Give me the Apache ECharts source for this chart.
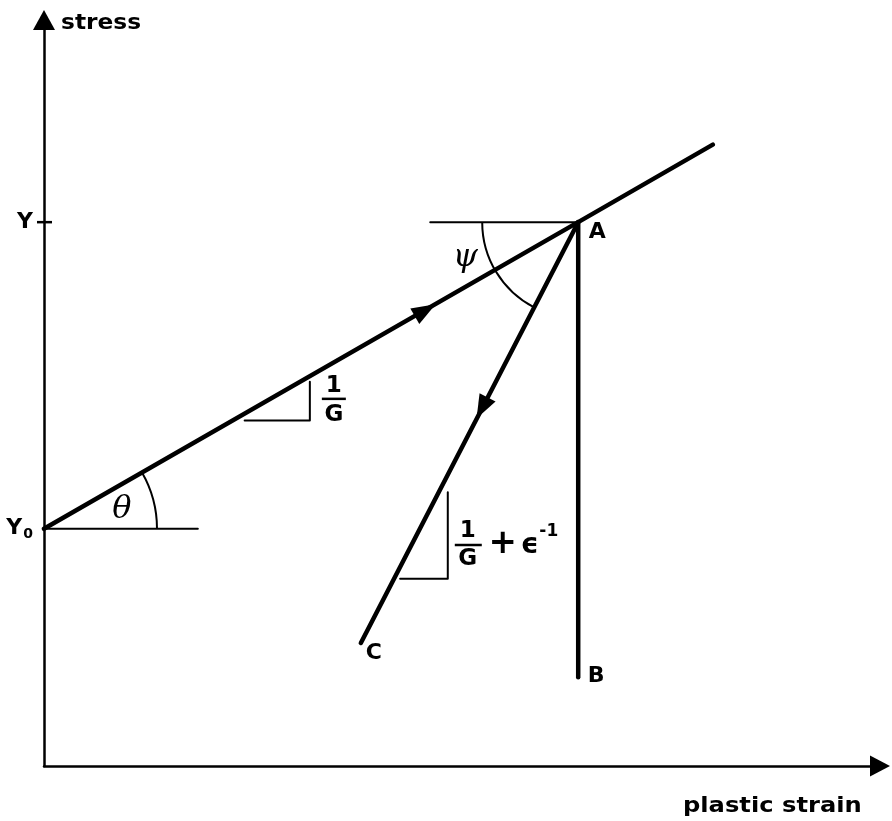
<!DOCTYPE html>
<html>
<head>
<meta charset="utf-8">
<title>Stress – plastic strain path</title>
<script src="https://cdn.jsdelivr.net/npm/echarts@6/dist/echarts.min.js"></script>
<style>
  html, body { margin: 0; padding: 0; background: #ffffff; }
  #chart { width: 892px; height: 821px; }
</style>
</head>
<body>
<div id="chart"></div>
<script>
// ---- path geometry, in (plastic strain, stress) units ----
const yieldStart = 3.18;          // Y0
const yieldAtA = 7.29;            // Y
const strainAtA = 6.39;

// loading line Y0 -> A, continued past A
const hardeningPath = [[0, 3.18], [6.39, 7.29], [8.0, 8.33]];
// unloading branches from A
const unloadToC = [[6.39, 7.29], [3.79, 1.65]];
const unloadToB = [[6.39, 7.29], [6.39, 1.19]];

// horizontal reference lines for the angles
const levelAtY0 = [[0, 3.18], [1.84, 3.18]];
const levelAtA = [[4.62, 7.29], [6.39, 7.29]];

// slope triangles
const slopeTriangleG = [[2.40, 4.63], [3.18, 4.63], [3.18, 5.15]];
const slopeTriangleGe = [[4.26, 2.51], [4.83, 2.51], [4.83, 3.67]];

// arrowheads: [x, y, towardX, towardY]
const arrowHeads = [
  [4.56, 6.11, 6.39, 7.29],
  [5.24, 4.80, 3.79, 1.65]
];

// angle arcs: [centerX, centerY, startRayX, startRayY, endRayX, endRayY]
const angleArcs = [
  [6.39, 7.29, 3.79, 1.65, 4.62, 7.29],   // psi
  [0, 3.18, 6.39, 7.29, 1.84, 3.18]       // theta
];
const angleNames = ['ψ', 'θ'];

// labelled end points
const pointNames = ['A', 'B', 'C'];
const pointX = [6.39, 6.39, 3.79];
const pointY = [7.29, 1.19, 1.65];

// y-axis tick labels
const yTickValues = [3.18, 7.29];
const yTickLabels = ['Y0', 'Y'];

// slope annotations anchored at the triangle corners
const slopeAnchors = [[3.18, 4.63], [4.83, 2.51]];

const ink = '#000000';
const sans = '"DejaVu Sans", "Liberation Sans", sans-serif';
const serif = '"DejaVu Serif", "Liberation Serif", serif';

function segment(data, width) {
  return {
    type: 'line', data: data, symbol: 'none', silent: true, clip: false,
    animation: false, z: 3,
    lineStyle: { color: ink, width: width, cap: 'round', join: 'round' }
  };
}

const arcRadius = [96, 113];
const angleLabelOffset = [[-113, 36], [78, -19]];
const pointLabelOffset = [[19, 10], [18, -1], [13, 10]];

const chart = echarts.init(document.getElementById('chart'), null, { renderer: 'canvas' });

chart.setOption({
  backgroundColor: '#ffffff',
  animation: false,
  grid: { left: 44, right: 12, top: 20, bottom: 55, containLabel: false, outerBoundsMode: 'none' },
  xAxis: {
    type: 'value', min: 0, max: 10,
    axisLine: { show: true, symbol: ['none', 'triangle'], symbolSize: [21, 20],
      lineStyle: { color: ink, width: 2.5 } },
    axisTick: { show: false }, axisLabel: { show: false }, splitLine: { show: false }
  },
  yAxis: {
    type: 'value', min: 0, max: 10,
    axisLine: { show: true, symbol: ['none', 'triangle'], symbolSize: [22, 20],
      lineStyle: { color: ink, width: 2.5 } },
    axisTick: { show: false },
    splitLine: { show: false },
    axisLabel: {
      show: true, margin: 11, customValues: yTickValues,
      formatter: function (v) {
        const i = yTickValues.findIndex(t => Math.abs(t - v) < 1e-6);
        const s = yTickLabels[i] || '';
        return s.length > 1 ? '{m|' + s[0] + '}{s|' + s.slice(1) + '}' : '{m|' + s + '}';
      },
      rich: {
        m: { fontFamily: sans, fontWeight: 'bold', fontSize: 22, color: ink },
        s: { fontFamily: sans, fontWeight: 'bold', fontSize: 14, color: ink,
             verticalAlign: 'bottom', padding: [12, 0, 0, 1] }
      }
    }
  },
  graphic: [
    { type: 'text', x: 61, y: 23, scaleX: 1.06, silent: true,
      style: { text: 'stress', fill: ink, font: 'bold 22px ' + sans,
               textAlign: 'left', textVerticalAlign: 'middle' } },
    { type: 'text', x: 683, y: 806, scaleX: 1.1, silent: true,
      style: { text: 'plastic strain', fill: ink, font: 'bold 22px ' + sans,
               textAlign: 'left', textVerticalAlign: 'middle' } }
  ],
  series: [
    segment(hardeningPath, 4.5),
    segment(unloadToC, 4.5),
    segment(unloadToB, 4.5),
    segment(levelAtY0, 2),
    segment(levelAtA, 2),
    segment(slopeTriangleG, 2),
    segment(slopeTriangleGe, 2),
    {
      // tick mark crossing the stress axis at Y
      type: 'custom', silent: true, animation: false, clip: false, z: 4,
      data: [[0, yieldAtA]],
      renderItem: function (params, api) {
        const p = api.coord([api.value(0), api.value(1)]);
        return { type: 'line', shape: { x1: p[0] - 7, y1: p[1], x2: p[0] + 8, y2: p[1] },
                 style: { stroke: ink, lineWidth: 2.5 } };
      }
    },
    {
      type: 'custom', silent: true, animation: false, clip: false, z: 5,
      data: arrowHeads,
      renderItem: function (params, api) {
        const p = api.coord([api.value(0), api.value(1)]);
        const q = api.coord([api.value(2), api.value(3)]);
        const a = Math.atan2(q[1] - p[1], q[0] - p[0]);
        const ux = Math.cos(a), uy = Math.sin(a);
        const L = 24, W = 9;
        const tip = [p[0] + ux * L / 2, p[1] + uy * L / 2];
        const bx = p[0] - ux * L / 2, by = p[1] - uy * L / 2;
        return { type: 'polygon',
                 shape: { points: [tip, [bx - uy * W, by + ux * W], [bx + uy * W, by - ux * W]] },
                 style: { fill: ink } };
      }
    },
    {
      type: 'custom', silent: true, animation: false, clip: false, z: 4,
      data: angleArcs,
      renderItem: function (params, api) {
        const c = api.coord([api.value(0), api.value(1)]);
        const s = api.coord([api.value(2), api.value(3)]);
        const e = api.coord([api.value(4), api.value(5)]);
        const a0 = Math.atan2(s[1] - c[1], s[0] - c[0]);
        const a1 = Math.atan2(e[1] - c[1], e[0] - c[0]);
        const i = params.dataIndex;
        const off = angleLabelOffset[i];
        return {
          type: 'group',
          children: [
            { type: 'arc',
              shape: { cx: c[0], cy: c[1], r: arcRadius[i], startAngle: a0, endAngle: a1, clockwise: true },
              style: { stroke: ink, lineWidth: 2, fill: null } },
            { type: 'text', x: c[0] + off[0], y: c[1] + off[1],
              style: { text: angleNames[i], fill: ink, font: 'italic 32px ' + serif,
                       textAlign: 'center', textVerticalAlign: 'middle' } }
          ]
        };
      }
    },
    {
      type: 'custom', silent: true, animation: false, clip: false, z: 4,
      data: slopeAnchors,
      renderItem: function (params, api) {
        const p = api.coord([api.value(0), api.value(1)]);
        const bold = 'bold 23px ' + sans;
        const kids = [];
        if (params.dataIndex === 0) {
          kids.push(
            { type: 'text', x: p[0] + 24, y: p[1] - 35,
              style: { text: '1', fill: ink, font: bold, textAlign: 'center', textVerticalAlign: 'middle' } },
            { type: 'rect', shape: { x: p[0] + 12, y: p[1] - 23, width: 24, height: 2.5 }, style: { fill: ink } },
            { type: 'text', x: p[0] + 24, y: p[1] - 6,
              style: { text: 'G', fill: ink, font: bold, textAlign: 'center', textVerticalAlign: 'middle' } }
          );
        } else {
          kids.push(
            { type: 'text', x: p[0] + 20, y: p[1] - 48,
              style: { text: '1', fill: ink, font: bold, textAlign: 'center', textVerticalAlign: 'middle' } },
            { type: 'rect', shape: { x: p[0] + 7, y: p[1] - 35, width: 27, height: 2.5 }, style: { fill: ink } },
            { type: 'text', x: p[0] + 20, y: p[1] - 20,
              style: { text: 'G', fill: ink, font: bold, textAlign: 'center', textVerticalAlign: 'middle' } },
            { type: 'text', x: p[0] + 55, y: p[1] - 35,
              style: { text: '+', fill: ink, font: 'bold 34px ' + sans, textAlign: 'center', textVerticalAlign: 'middle' } },
            { type: 'text', x: p[0] + 82, y: p[1] - 33,
              style: { text: 'ϵ', fill: ink, font: 'bold 28px ' + sans, textAlign: 'center', textVerticalAlign: 'middle' } },
            { type: 'text', x: p[0] + 101, y: p[1] - 47,
              style: { text: '-1', fill: ink, font: 'bold 17px ' + sans, textAlign: 'center', textVerticalAlign: 'middle' } }
          );
        }
        return { type: 'group', children: kids };
      }
    },
    {
      // end-point letters
      type: 'custom', silent: true, animation: false, clip: false, z: 6,
      data: pointNames.map((n, i) => [pointX[i], pointY[i]]),
      renderItem: function (params, api) {
        const p = api.coord([api.value(0), api.value(1)]);
        const off = pointLabelOffset[params.dataIndex];
        return { type: 'text', x: p[0] + off[0], y: p[1] + off[1],
                 style: { text: pointNames[params.dataIndex], fill: ink, font: 'bold 22px ' + sans,
                          textAlign: 'center', textVerticalAlign: 'middle' } };
      }
    }
  ]
});
</script>
</body>
</html>
